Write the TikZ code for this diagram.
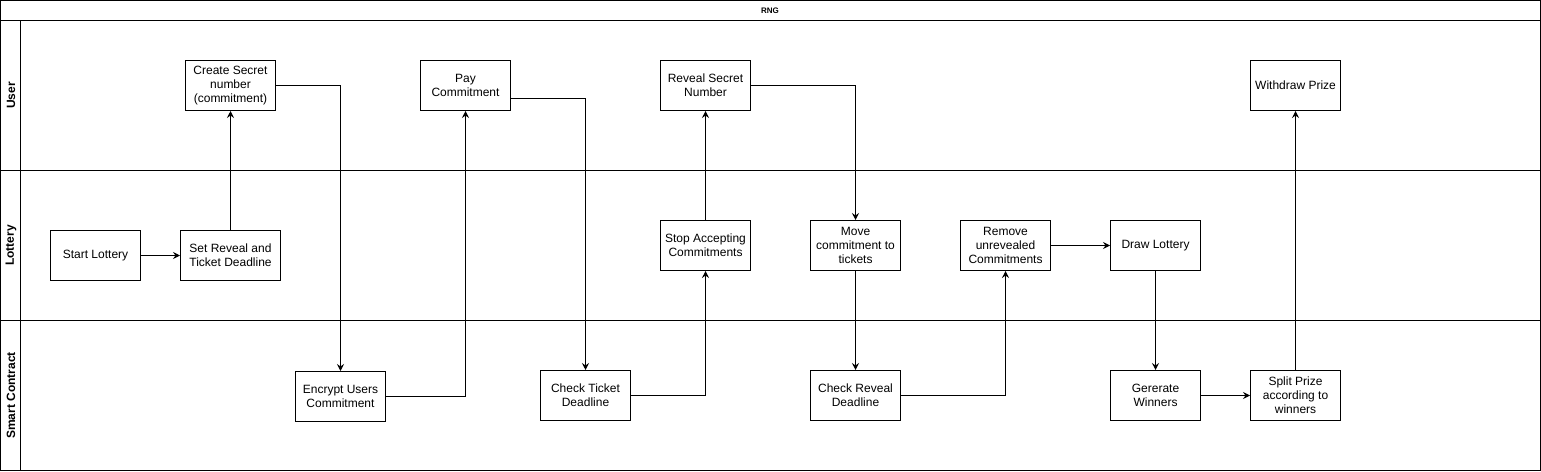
\documentclass[tikz,border=0pt]{standalone}
\usepackage{fontspec}
\setmainfont{Liberation Sans}
\usetikzlibrary{arrows.meta}

\begin{document}
\begin{tikzpicture}[x=1pt, y=-1pt,
		stepbox/.style={draw, line width=1pt, minimum width=90pt, minimum height=50pt, inner sep=1pt, align=center, font=\fontsize{12}{14}\selectfont},
		lanetext/.style={rotate=90, font=\fontsize{12}{14}\selectfont\bfseries},
		flow/.style={line width=1pt, -{Stealth[length=7pt, width=7pt, inset=2.5pt]}}]
			%%%%% START %%%%%
			
			\useasboundingbox (0, 0) rectangle (1541, 471);
			
			\draw[line width=1pt] (0.5, 0.5) rectangle (1540.5, 470.5);
			\draw[line width=1pt] (0.5, 20.5) -- (1540.5, 20.5);
			\draw[line width=1pt] (20.5, 20.5) -- (20.5, 470.5);
			\draw[line width=1pt] (0.5, 170.5) -- (1540.5, 170.5);
			\draw[line width=1pt] (0.5, 320.5) -- (1540.5, 320.5);
			
			\node[font=\fontsize{8}{10}\selectfont\bfseries] (title) at (770, 11) {RNG};
			\node[lanetext] (laneuser) at (11, 95.5) {User};
			\node[lanetext] (lanelottery) at (11, 245.5) {Lottery};
			\node[lanetext] (lanecontract) at (11, 395.5) {Smart Contract};
			
			\node[stepbox] (create) at (230.5, 85.5) {Create Secret\\number\\(commitment)};
			\node[stepbox] (pay) at (465.5, 85.5) {Pay\\Commitment};
			\node[stepbox] (reveal) at (705.5, 85.5) {Reveal Secret\\Number};
			\node[stepbox] (withdraw) at (1295.5, 85.5) {Withdraw Prize};
			
			\node[stepbox] (start) at (95.5, 255.5) {Start Lottery};
			\node[stepbox, minimum width=100pt] (deadline) at (230.5, 255.5) {Set Reveal and\\Ticket Deadline};
			\node[stepbox] (stop) at (705.5, 245.5) {Stop Accepting\\Commitments};
			\node[stepbox] (move) at (855.5, 245.5) {Move\\commitment to\\tickets};
			\node[stepbox] (remove) at (1005.5, 245.5) {Remove\\unrevealed\\Commitments};
			\node[stepbox] (drawlot) at (1155.5, 245.5) {Draw Lottery};
			
			\node[stepbox] (encrypt) at (340.5, 396.5) {Encrypt Users\\Commitment};
			\node[stepbox] (checkticket) at (585.5, 395.5) {Check Ticket\\Deadline};
			\node[stepbox] (checkreveal) at (855.5, 395.5) {Check Reveal\\Deadline};
			\node[stepbox] (winners) at (1155.5, 395.5) {Gererate\\Winners};
			\node[stepbox] (split) at (1295.5, 395.5) {Split Prize\\according to\\winners};
			
			\draw[flow] (start) -- (deadline);
			\draw[flow] (deadline) -- (create);
			\draw[flow] (create.east) -| (encrypt.north);
			\draw[flow] (encrypt.east) -| (pay.south);
			\draw[flow] ([yshift=-13pt]pay.east) -| (checkticket.north);
			\draw[flow] (checkticket.east) -| (stop.south);
			\draw[flow] (stop) -- (reveal);
			\draw[flow] (reveal.east) -| (move.north);
			\draw[flow] (move) -- (checkreveal);
			\draw[flow] (checkreveal.east) -| (remove.south);
			\draw[flow] (remove) -- (drawlot);
			\draw[flow] (drawlot) -- (winners);
			\draw[flow] (winners) -- (split);
			\draw[flow] (split) -- (withdraw);
			
			%%%%% END %%%%%
		\end{tikzpicture}
\end{document}
